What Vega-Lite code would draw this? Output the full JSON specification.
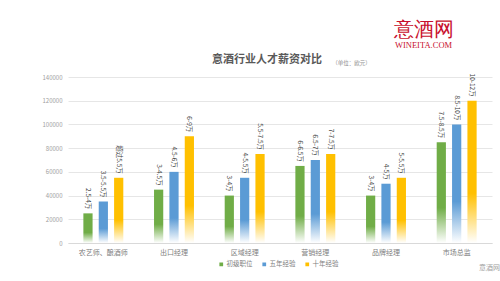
{
  "$schema": "https://vega.github.io/schema/vega-lite/v6.json",
  "autosize": "none",
  "width": 424,
  "height": 166,
  "padding": {"left": 68, "top": 77, "right": 8, "bottom": 38},
  "background": "white",
  "title": {
    "text": "意酒行业人才薪资对比",
    "font": "Noto Sans CJK SC",
    "fontSize": 11,
    "fontWeight": "bold",
    "color": "#595959",
    "anchor": "middle",
    "dx": -13,
    "dy": 57,
    "offset": 11
  },
  "config": {
    "view": {"stroke": null},
    "font": "Noto Sans CJK SC",
    "axis": {"labelFont": "Noto Sans CJK SC", "titleFont": "Noto Sans CJK SC"}
  },
  "data": {
    "values": [
      {"role": "农艺师、酿酒师", "series": "初级职位", "value": 25000, "label": "2.5-4万"},
      {"role": "农艺师、酿酒师", "series": "五年经验", "value": 35000, "label": "3.5-5.5万"},
      {"role": "农艺师、酿酒师", "series": "十年经验", "value": 55000, "label": "超过5.5万"},
      {"role": "出口经理", "series": "初级职位", "value": 45000, "label": "3-4.5万"},
      {"role": "出口经理", "series": "五年经验", "value": 60000, "label": "4.5-6万"},
      {"role": "出口经理", "series": "十年经验", "value": 90000, "label": "6-9万"},
      {"role": "区域经理", "series": "初级职位", "value": 40000, "label": "3-4万"},
      {"role": "区域经理", "series": "五年经验", "value": 55000, "label": "4-5.5万"},
      {"role": "区域经理", "series": "十年经验", "value": 75000, "label": "5.5-7.5万"},
      {"role": "营销经理", "series": "初级职位", "value": 65000, "label": "6-6.5万"},
      {"role": "营销经理", "series": "五年经验", "value": 70000, "label": "6.5-7万"},
      {"role": "营销经理", "series": "十年经验", "value": 75000, "label": "7-7.5万"},
      {"role": "品牌经理", "series": "初级职位", "value": 40000, "label": "3-4万"},
      {"role": "品牌经理", "series": "五年经验", "value": 50000, "label": "4-5万"},
      {"role": "品牌经理", "series": "十年经验", "value": 55000, "label": "5-5.5万"},
      {"role": "市场总监", "series": "初级职位", "value": 85000, "label": "7.5-8.5万"},
      {"role": "市场总监", "series": "五年经验", "value": 100000, "label": "8.5-10万"},
      {"role": "市场总监", "series": "十年经验", "value": 120000, "label": "10-12万"}
    ]
  },
  "resolve": {"axis": {"x": "independent", "y": "independent"}},
  "encoding": {
    "x": {"field": "role", "type": "nominal", "sort": null,
      "scale": {"paddingInner": 0, "paddingOuter": 0}},
    "xOffset": {"field": "series", "type": "nominal",
      "scale": {"domain": ["初级职位", "五年经验", "十年经验"], "paddingInner": 0.4, "paddingOuter": 1.05}},
    "y": {"field": "value", "type": "quantitative",
      "scale": {"domain": [0, 140000], "nice": false}}
  },
  "layer": [
    {
      "mark": {"type": "point", "opacity": 0, "filled": true},
      "encoding": {
        "x": {"field": "role", "type": "nominal", "sort": null,
          "axis": {"title": "意酒网", "titleX": 421, "titleY": 24, "titleFontSize": 7, "titleColor": "#a0a0a0", "titleFontWeight": "normal", "titleAlign": "center", "titleBaseline": "middle",
            "labelAngle": 0, "labelFontSize": 7, "labelColor": "#808080", "labelPadding": 5,
            "ticks": false, "domainColor": "#d9d9d9", "domainWidth": 1}},
        "y": {"field": "value", "type": "quantitative",
          "axis": {"title": "（单位：欧元）", "titleAngle": 0, "titleX": 283, "titleY": -15, "titleFontSize": 5.5, "titleColor": "#8c8c8c", "titleFontWeight": "normal", "titleAlign": "center", "titleBaseline": "middle",
            "values": [0, 20000, 40000, 60000, 80000, 100000, 120000, 140000],
            "format": "d", "labelFontSize": 6, "labelColor": "#a0a0a0", "labelPadding": 6,
            "ticks": false, "domain": false, "grid": true, "gridColor": "#e0e0e0", "gridWidth": 0.8}},
        "color": {"field": "series", "type": "nominal",
          "scale": {"domain": ["初级职位", "五年经验", "十年经验"], "range": ["#70AD47", "#5B9BD5", "#FFC000"]},
          "legend": {"title": null, "orient": "none", "legendX": 150, "legendY": 184, "direction": "horizontal",
            "symbolType": "square", "symbolSize": 14, "symbolOpacity": 1, "symbolStrokeWidth": 0,
            "labelFontSize": 6.5, "labelColor": "#808080", "columnPadding": 8, "labelOffset": 2}}
      }
    },
    {
      "transform": [{"filter": "datum.series === '初级职位'"}],
      "mark": {"type": "bar", "color": {"gradient": "linear", "x1": 0, "y1": 0, "x2": 0, "y2": 1,
        "stops": [{"offset": 0, "color": "#70AD47"}, {"offset": 0.65, "color": "#70AD47"}, {"offset": 1, "color": "#ffffff"}]}},
      "encoding": {
        "x": {"field": "role", "type": "nominal", "sort": null, "axis": null},
        "y": {"field": "value", "type": "quantitative", "axis": null}
      }
    },
    {
      "transform": [{"filter": "datum.series === '五年经验'"}],
      "mark": {"type": "bar", "color": {"gradient": "linear", "x1": 0, "y1": 0, "x2": 0, "y2": 1,
        "stops": [{"offset": 0, "color": "#5B9BD5"}, {"offset": 0.65, "color": "#5B9BD5"}, {"offset": 1, "color": "#ffffff"}]}},
      "encoding": {
        "x": {"field": "role", "type": "nominal", "sort": null, "axis": null},
        "y": {"field": "value", "type": "quantitative", "axis": null}
      }
    },
    {
      "transform": [{"filter": "datum.series === '十年经验'"}],
      "mark": {"type": "bar", "color": {"gradient": "linear", "x1": 0, "y1": 0, "x2": 0, "y2": 1,
        "stops": [{"offset": 0, "color": "#FFC000"}, {"offset": 0.65, "color": "#FFC000"}, {"offset": 1, "color": "#ffffff"}]}},
      "encoding": {
        "x": {"field": "role", "type": "nominal", "sort": null, "axis": null},
        "y": {"field": "value", "type": "quantitative", "axis": null}
      }
    },
    {
      "mark": {"type": "text", "angle": 90, "align": "right", "baseline": "middle", "dx": -4, "fontSize": 6.5, "color": "#404040"},
      "encoding": {
        "x": {"field": "role", "type": "nominal", "sort": null,
          "axis": {"orient": "top", "labels": false, "ticks": false, "domain": false, "grid": false,
            "title": "意酒网", "titleX": 355, "titleY": -48, "titleFont": "DejaVu Serif", "titleFontSize": 20, "titleColor": "#C8102E", "titleFontWeight": "normal", "titleAlign": "center", "titleBaseline": "middle"}},
        "y": {"field": "value", "type": "quantitative",
          "axis": {"orient": "right", "labels": false, "ticks": false, "domain": false, "grid": false,
            "title": "WINEITA.COM", "titleAngle": 0, "titleX": -69, "titleY": -33, "titleFont": "Liberation Serif", "titleFontSize": 8.5, "titleColor": "#C8102E", "titleFontWeight": "normal", "titleAlign": "center", "titleBaseline": "middle"}},
        "text": {"field": "label"}
      }
    }
  ]
}
